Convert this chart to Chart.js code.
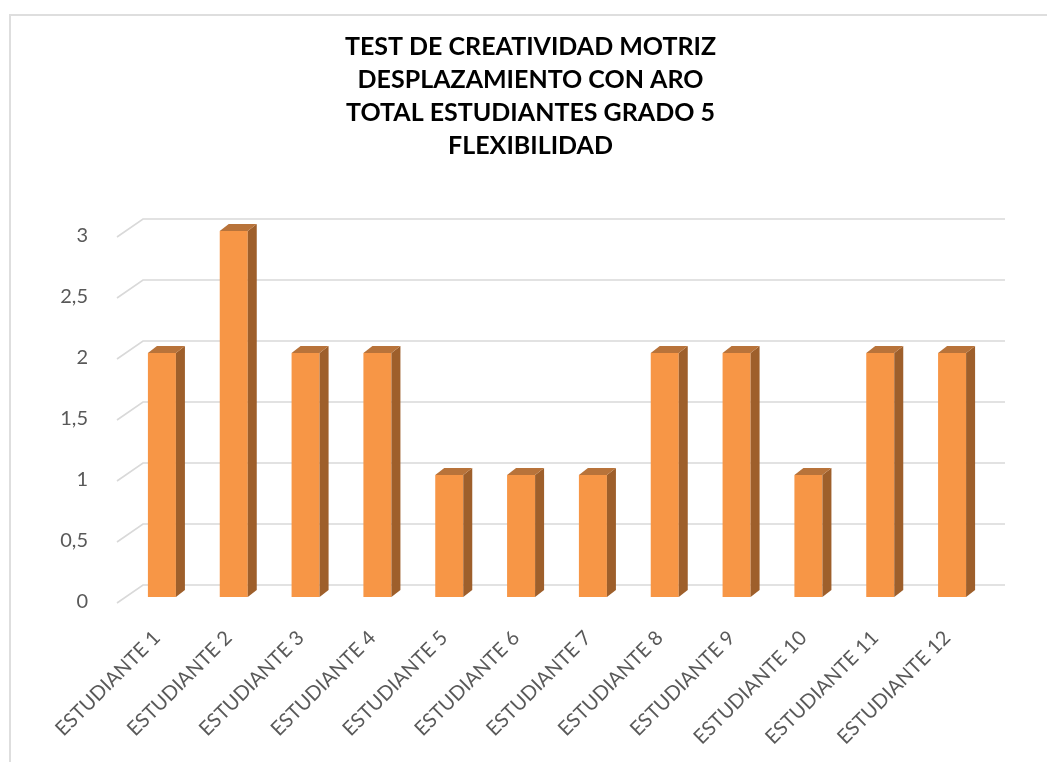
<!DOCTYPE html>
<html>
<head>
<meta charset="utf-8">
<script src="https://cdn.jsdelivr.net/npm/chart.js@4.4.1/dist/chart.umd.min.js"></script>
<style>
  html, body { margin: 0; padding: 0; background: #fff; }
  #wrap { width: 1047px; height: 762px; position: relative; }
</style>
</head>
<body>
<div id="wrap"><canvas id="chart" width="1047" height="762"></canvas></div>
<script>
// Chart data
const titleLines = [
  'TEST DE CREATIVIDAD MOTRIZ',
  'DESPLAZAMIENTO CON ARO',
  'TOTAL ESTUDIANTES GRADO 5',
  'FLEXIBILIDAD'
];
const categories = [
  'ESTUDIANTE 1', 'ESTUDIANTE 2', 'ESTUDIANTE 3', 'ESTUDIANTE 4',
  'ESTUDIANTE 5', 'ESTUDIANTE 6', 'ESTUDIANTE 7', 'ESTUDIANTE 8',
  'ESTUDIANTE 9', 'ESTUDIANTE 10', 'ESTUDIANTE 11', 'ESTUDIANTE 12'
];
const flexValues = [2, 3, 2, 2, 1, 1, 1, 2, 2, 1, 2, 2];
const yTickLabels = ['0', '0,5', '1', '1,5', '2', '2,5', '3'];

const DEPTH_X = 9, DEPTH_Y = 7;   // bar 3D depth
const FLOOR_DX = 26, FLOOR_DY = 18; // gridline perspective

// Perspective gridlines, outer frame and bar sides
const backWall = {
  id: 'backWall',
  beforeDatasetsDraw(chart) {
    const { ctx, chartArea, scales } = chart;
    ctx.save();
    // frame
    ctx.strokeStyle = '#dedede';
    ctx.lineWidth = 2;
    ctx.beginPath();
    ctx.moveTo(10, 762);
    ctx.lineTo(10, 15);
    ctx.lineTo(1047, 15);
    ctx.stroke();

    ctx.strokeStyle = '#d9d9d9';
    ctx.lineWidth = 1.6;
    scales.y.ticks.forEach(t => {
      const y = scales.y.getPixelForValue(t.value);
      const fx = chartArea.left - 9;
      const bx = fx + FLOOR_DX;
      ctx.beginPath();
      ctx.moveTo(fx, y + 6);
      ctx.lineTo(bx, y + 6 - FLOOR_DY);
      ctx.lineTo(chartArea.right + 17, y + 6 - FLOOR_DY);
      ctx.stroke();
    });
    ctx.restore();
  },
  afterDatasetsDraw(chart) {
    const { ctx } = chart;
    const meta = chart.getDatasetMeta(0);
    ctx.save();
    meta.data.forEach(bar => {
      const p = bar.getProps(['x', 'y', 'base', 'width'], true);
      const l = p.x - p.width / 2, r = p.x + p.width / 2;
      // side face
      ctx.fillStyle = '#9e5f2b';
      ctx.beginPath();
      ctx.moveTo(r, p.y);
      ctx.lineTo(r + DEPTH_X, p.y - DEPTH_Y);
      ctx.lineTo(r + DEPTH_X, p.base - DEPTH_Y);
      ctx.lineTo(r, p.base);
      ctx.closePath();
      ctx.fill();
      // top face
      ctx.fillStyle = '#b8733a';
      ctx.beginPath();
      ctx.moveTo(l, p.y);
      ctx.lineTo(l + DEPTH_X, p.y - DEPTH_Y);
      ctx.lineTo(r + DEPTH_X, p.y - DEPTH_Y);
      ctx.lineTo(r, p.y);
      ctx.closePath();
      ctx.fill();
    });
    ctx.restore();
  }
};

new Chart(document.getElementById('chart'), {
  type: 'bar',
  data: {
    labels: categories,
    datasets: [{
      label: 'Flexibilidad',
      data: flexValues,
      backgroundColor: '#f79646',
      borderWidth: 0,
      barPercentage: 0.39,
      categoryPercentage: 1
    }]
  },
  options: {
    responsive: false,
    animation: false,
    layout: { padding: { left: 14, right: 0, top: 0, bottom: 0 } },
    plugins: {
      legend: { display: false },
      tooltip: { enabled: false },
      title: {
        display: true,
        text: titleLines,
        color: '#000',
        font: { family: 'Lato', size: 25, weight: 'bold', lineHeight: 1.33 },
        padding: { top: 30, bottom: 68 }
      }
    },
    scales: {
      x: {
        grid: { display: false },
        border: { display: false },
        ticks: {
          color: '#595959',
          font: { family: 'Lato', size: 20 },
          minRotation: 45,
          maxRotation: 45,
          padding: 21,
          labelOffset: -5,
          autoSkip: false
        },
        afterFit: s => { s.height = 165; }
      },
      y: {
        min: 0,
        max: 3,
        grid: { display: false },
        border: { display: false },
        ticks: {
          stepSize: 0.5,
          color: '#595959',
          font: { family: 'Lato', size: 20 },
          padding: 30,
          labelOffset: 5,
          callback: (v, i) => yTickLabels[i]
        },
        afterFit: s => { s.width = 112; }
      },
      yRight: {
        position: 'right',
        display: true,
        grid: { display: false },
        border: { display: false },
        ticks: { display: false },
        afterFit: s => { s.width = 59; }
      }
    }
  },
  plugins: [backWall]
});
</script>
</body>
</html>
